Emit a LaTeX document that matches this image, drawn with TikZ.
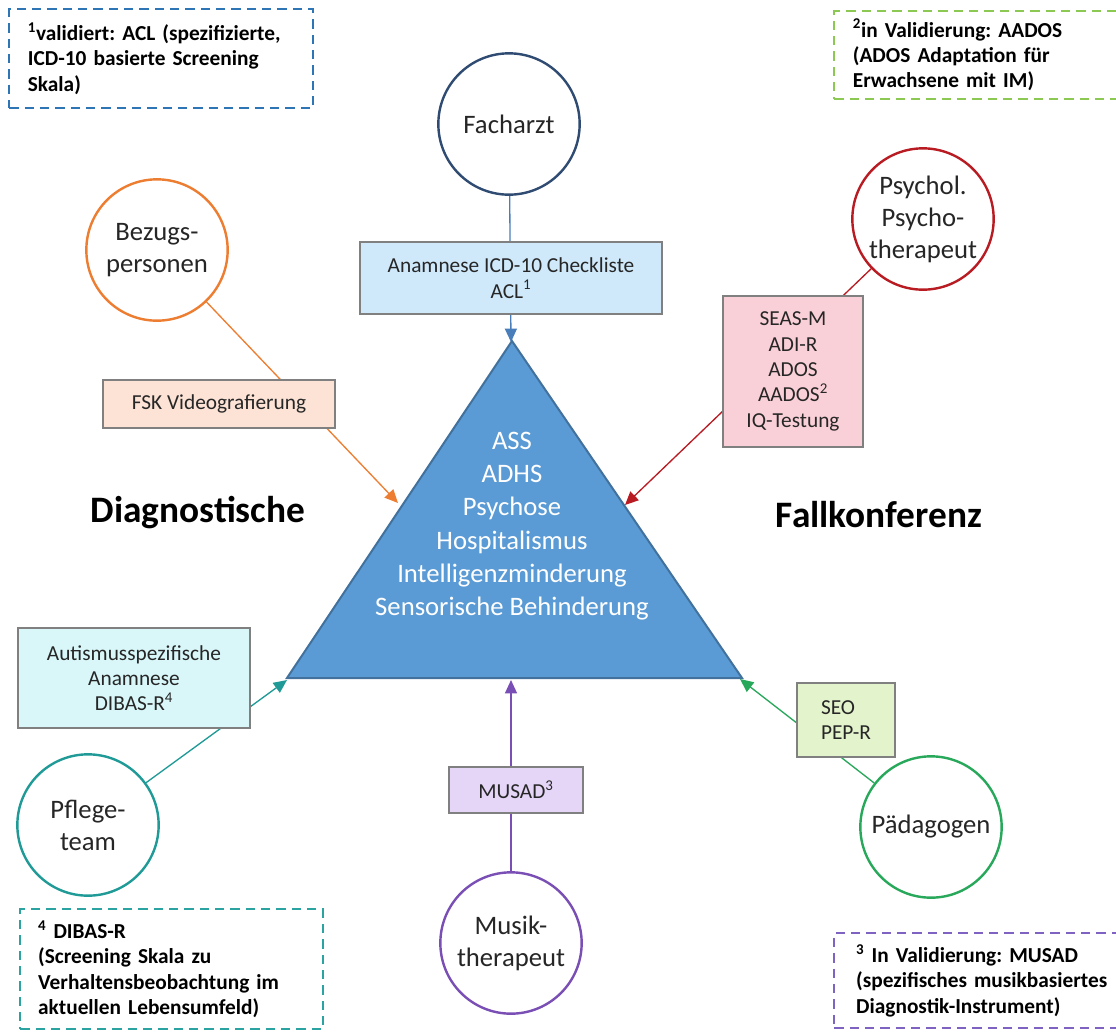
\documentclass[tikz,border=0pt]{standalone}
\usepackage{fontspec}
\setmainfont{Carlito}
\usetikzlibrary{arrows.meta,backgrounds}
\frenchspacing

\definecolor{txtdark}{HTML}{262626}
\definecolor{boxgray}{HTML}{808080}
\definecolor{triblue}{HTML}{5B9BD5}
\definecolor{triedge}{HTML}{41719C}
\definecolor{fachblue}{HTML}{2F4B72}
\definecolor{fachlink}{HTML}{4A7EBB}
\definecolor{bezorange}{HTML}{ED7D31}
\definecolor{psyred}{HTML}{B81C22}
\definecolor{pflteal}{HTML}{1F9A96}
\definecolor{paedgreen}{HTML}{28A85A}
\definecolor{muspurple}{HTML}{7A4FB5}
\definecolor{noteblue}{HTML}{2E75B6}
\definecolor{notegreen}{HTML}{8CC953}
\definecolor{noteteal}{HTML}{2BA3A0}
\definecolor{notepurple}{HTML}{7F63C2}
\definecolor{anafill}{HTML}{CFE9FB}
\definecolor{fskfill}{HTML}{FCE3D6}
\definecolor{seasfill}{HTML}{FAD0D8}
\definecolor{autfill}{HTML}{D9F7F9}
\definecolor{seofill}{HTML}{E3F3CC}
\definecolor{musfill}{HTML}{E5D6F8}

\tikzset{
  role/.style={circle, draw=#1, line width=1.8pt, minimum size=106pt, inner sep=0pt,
    align=center, fill=white, text=txtdark, font=\fontsize{20}{24}\selectfont},
  tool/.style={draw=boxgray, line width=1.5pt, fill=#1, inner sep=0pt, align=center,
    text=txtdark, font=\fontsize{16}{19}\selectfont},
  note/.style={draw=#1, line width=1.8pt, dash pattern=on 7pt off 4.5pt, anchor=north west,
    align=left, inner ysep=0pt, text=black, font=\bfseries\fontsize{16}{19}\selectfont},
  link/.style={draw=#1, line width=1pt, -{Triangle[length=10pt,width=9pt,fill=#1]}},
  sidetitle/.style={text=black, font=\bfseries\fontsize{28}{32}\selectfont},
}

\begin{document}
\begin{tikzpicture}[x=0.75pt,y=-0.75pt]
    \useasboundingbox (0,0) rectangle (1116,1032);

    % footnotes
    \node[note=noteblue, inner xsep=14pt, text width=200pt, minimum height=74pt] (n1) at (8,8)
      {\textsuperscript{1}validiert: ACL (spezifizierte,\\ICD-10 basierte Screening\\Skala)};
    \node[note=notegreen, inner xsep=14pt, text width=200pt, minimum height=66pt] (n2) at (833,10)
      {\textsuperscript{2}in Validierung: AADOS\\(ADOS Adaptation für\\Erwachsene mit IM)};
    \node[note=noteteal, inner xsep=13.5pt, text width=200pt, minimum height=90pt] (n4) at (19,908)
      {\textsuperscript{4} DIBAS-R\\(Screening Skala zu\\Verhaltensbeobachtung im\\aktuellen Lebensumfeld)};
    \node[note=notepurple, inner xsep=16.5pt, text width=200pt, minimum height=71pt] (n3) at (833,932)
      {\textsuperscript{3} In Validierung: MUSAD\\(spezifisches musikbasiertes\\Diagnostik-Instrument)};

    % triangle with diagnoses
    \coordinate (apex) at (512,341);
    \coordinate (tl) at (287,678);
    \coordinate (tr) at (742,678);
    \draw[fill=triblue, draw=triedge, line width=1.5pt] (apex) -- (tr) -- (tl) -- cycle;
    \node[text=white, align=center, font=\fontsize{20}{25}\selectfont] (diag) at (512,526)
      {ASS\\ADHS\\Psychose\\Hospitalismus\\Intelligenzminderung\\Sensorische Behinderung};

    \node[sidetitle] (lhs) at (198,513) {Diagnostische};
    \node[sidetitle] (rhs) at (879,515) {Fallkonferenz};

    % professions
    \node[role=fachblue] (fach) at (509,124) {Facharzt};
    \node[role=bezorange] (bez) at (157,250) {Bezugs-\\personen};
    \node[role=psyred] (psy) at (923,219) {Psychol.\\Psycho-\\therapeut};
    \node[role=pflteal] (pfl) at (88,825) {Pflege-\\team};
    \node[role=paedgreen] (paed) at (931,827) {Pädagogen};
    \node[role=muspurple] (mus) at (511,943) {Musik-\\therapeut};

    % instruments
    \node[tool=anafill, minimum width=226.5pt, minimum height=54pt] (acl) at (511,278)
      {Anamnese ICD-10 Checkliste\\ACL\textsuperscript{1}};
    \node[tool=fskfill, minimum width=174pt, minimum height=36pt] (fsk) at (219,404)
      {FSK Videografierung};
    \node[tool=seasfill, minimum width=105pt, minimum height=113pt] (seas) at (793,371.5)
      {SEAS-M\\ADI-R\\ADOS\\AADOS\textsuperscript{2}\\IQ-Testung};
    \node[tool=autfill, minimum width=174pt, minimum height=75pt] (dibas) at (134,678)
      {Autismusspezifische\\Anamnese\\DIBAS-R\textsuperscript{4}};
    \node[tool=seofill, align=left, minimum width=73.5pt, minimum height=55.5pt] (seo) at (846,720)
      {SEO\\PEP-R};
    \node[tool=musfill, minimum width=100.5pt, minimum height=35pt] (musad) at (516,790)
      {MUSAD\textsuperscript{3}};

    % arrow tips on the triangle
    \coordinate (tipA) at (511,342);
    \coordinate (tipB) at (398,503);
    \coordinate (tipC) at (625,505);
    \coordinate (tipD) at (287,680);
    \coordinate (tipE) at (740,679);
    \coordinate (tipF) at (511,680);

    \begin{pgfonlayer}{background}
      \draw[link=fachlink] (fach) -- (tipA);
      \draw[link=bezorange] (bez) -- (tipB);
      \draw[link=psyred] (psy) -- (tipC);
      \draw[link=pflteal] (pfl) -- (tipD);
      \draw[link=paedgreen] (paed) -- (tipE);
      \draw[link=muspurple] (mus) -- (tipF);
    \end{pgfonlayer}
\end{tikzpicture}
\end{document}
